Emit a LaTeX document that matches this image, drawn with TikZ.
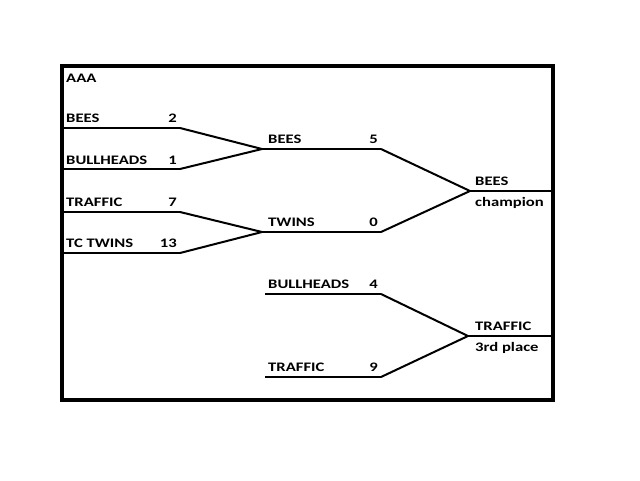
\documentclass[tikz,border=0pt]{standalone}
\usepackage{fontspec}
\setmainfont{Carlito}[FakeStretch=1.28]
\begin{document}
\begin{tikzpicture}[x=1pt,y=-1pt,
  lbl/.style={font=\bfseries\fontsize{13}{15}\selectfont, inner sep=0pt},
  team/.style={lbl, anchor=base west},
  score/.style={lbl, anchor=base east},
  bline/.style={line width=2pt},
  hline/.style={line width=1.4pt}]
\useasboundingbox (0,0) rectangle (640,480);
\fill[white] (0,0) rectangle (640,480);
\draw[line width=3.5pt] (62,66) rectangle (553,400);
% coordinates
\coordinate (a1) at (62,128);  \coordinate (a1e) at (180,128);
\coordinate (a2) at (62,169);  \coordinate (a2e) at (180,169);
\coordinate (a3) at (62,212);  \coordinate (a3e) at (180,212);
\coordinate (a4) at (62,253);  \coordinate (a4e) at (180,253);
\coordinate (m1) at (262,149); \coordinate (m1e) at (381,149);
\coordinate (m2) at (262,232); \coordinate (m2e) at (381,232);
\coordinate (c) at (470,191);  \coordinate (ce) at (553,191);
\coordinate (t1) at (265,294); \coordinate (t1e) at (381,294);
\coordinate (t2) at (265,377); \coordinate (t2e) at (381,377);
\coordinate (t) at (468,336);  \coordinate (te) at (553,336);
% lines
\draw[hline] (a1) -- (a1e); \draw[bline] (a1e) -- (m1);
\draw[hline] (a2) -- (a2e); \draw[bline] (a2e) -- (m1);
\draw[hline] (a3) -- (a3e); \draw[bline] (a3e) -- (m2);
\draw[hline] (a4) -- (a4e); \draw[bline] (a4e) -- (m2);
\draw[hline] (m1) -- (m1e); \draw[bline] (m1e) -- (c);
\draw[hline] (m2) -- (m2e); \draw[bline] (m2e) -- (c);
\draw[hline] (c) -- (ce);
\draw[hline] (t1) -- (t1e); \draw[bline] (t1e) -- (t);
\draw[hline] (t2) -- (t2e); \draw[bline] (t2e) -- (t);
\draw[hline] (t) -- (te);
% labels
\node[team] (title) at (66,82) {AAA};
\node[team] (n1) at (66,122) {BEES};      \node[score] (s1) at (177,122) {2};
\node[team] (n2) at (66,164) {BULLHEADS}; \node[score] (s2) at (177,164) {1};
\node[team] (n3) at (66,206) {TRAFFIC};   \node[score] (s3) at (177,206) {7};
\node[team] (n4) at (66,247) {TC TWINS};  \node[score] (s4) at (177,247) {13};
\node[team] (n5) at (268,143) {BEES};     \node[score] (s5) at (378,143) {5};
\node[team] (n6) at (268,226) {TWINS};    \node[score] (s6) at (378,226) {0};
\node[team] (n7) at (475,185) {BEES};
\node[team] (n8) at (475,206) {champion};
\node[team] (n9) at (268,288) {BULLHEADS}; \node[score] (s9) at (378,288) {4};
\node[team] (n10) at (268,371) {TRAFFIC};  \node[score] (s10) at (378,371) {9};
\node[team] (n11) at (475,330) {TRAFFIC};
\node[team] (n12) at (475,351) {3rd place};
\end{tikzpicture}
\end{document}
